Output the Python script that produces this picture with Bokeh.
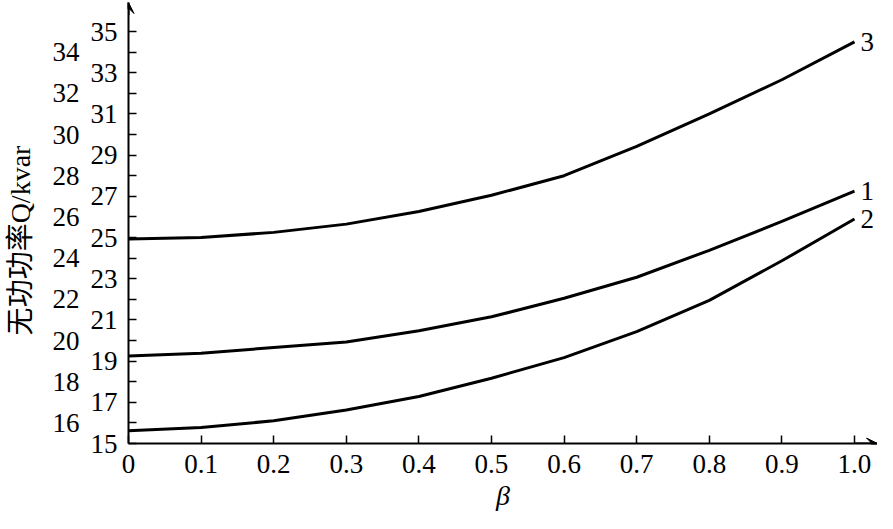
from bokeh.plotting import figure
from bokeh.models import (FixedTicker, LinearAxis, Range1d, Arrow, VeeHead)
from bokeh.core.properties import value
from bokeh.embed import file_html
from bokeh.resources import INLINE

# ---- data ----
beta = [0.0, 0.1, 0.2, 0.3, 0.4, 0.5, 0.6, 0.7, 0.8, 0.9, 1.0]
q_curve1 = [19.25, 19.38, 19.66, 19.93, 20.47, 21.15, 22.05, 23.07, 24.38, 25.78, 27.25]
q_curve2 = [15.62, 15.78, 16.10, 16.63, 17.28, 18.17, 19.17, 20.43, 21.95, 23.87, 25.90]
q_curve3 = [24.93, 25.00, 25.25, 25.65, 26.26, 27.05, 28.00, 29.42, 31.00, 32.66, 34.50]
curve_names = ["1", "2", "3"]

x_ticks = [0, 0.1, 0.2, 0.3, 0.4, 0.5, 0.6, 0.7, 0.8, 0.9, 1]
x_tick_labels = ["0", "0.1", "0.2", "0.3", "0.4", "0.5", "0.6", "0.7", "0.8", "0.9", "1.0"]
y_ticks = list(range(15, 36))
y_even = [t for t in y_ticks if t % 2 == 0]

x_title = "β"
y_title = "无功功率Q/kvar"

SERIF = "Liberation Serif"
TICK_FS = "27px"

p = figure(width=877, height=513, output_backend="svg", toolbar_location=None,
           x_range=Range1d(0, 1.0317), y_range=Range1d(15, 36.41),
           min_border_left=128, min_border_right=0, min_border_top=2,
           min_border_bottom=70)
p.outline_line_color = None
p.xgrid.visible = False
p.ygrid.visible = False
p.background_fill_color = "white"
p.border_fill_color = "white"

# x axis
xa = p.xaxis[0]
xa.ticker = FixedTicker(ticks=x_ticks)
xa.major_label_overrides = {t: s for t, s in zip(x_ticks, x_tick_labels)}
xa.major_tick_in = 8
xa.major_tick_out = 0
xa.minor_tick_line_color = None
xa.axis_line_width = 2
xa.major_tick_line_width = 1.5
xa.major_label_text_font = SERIF
xa.major_label_text_font_size = TICK_FS
xa.major_label_text_color = "black"
xa.major_label_standoff = 11
xa.axis_label = x_title
xa.axis_label_text_font = SERIF
xa.axis_label_text_font_style = "italic"
xa.axis_label_text_font_size = "28px"
xa.axis_label_text_color = "black"
xa.axis_label_standoff = 4

# y axis (inner: all ticks, odd labels)
ya = p.yaxis[0]
ya.ticker = FixedTicker(ticks=y_ticks)
ya.major_label_overrides = {t: ("" if t % 2 == 0 else str(t)) for t in y_ticks}
ya.major_tick_in = 8
ya.major_tick_out = 0
ya.minor_tick_line_color = None
ya.axis_line_width = 2
ya.major_tick_line_width = 1.5
ya.major_label_text_font = SERIF
ya.major_label_text_font_size = TICK_FS
ya.major_label_text_color = "black"
ya.major_label_standoff = 11

# y axis (outer: even labels, carries the title)
ya2 = LinearAxis(ticker=FixedTicker(ticks=y_even))
ya2.axis_line_color = None
ya2.major_tick_line_color = None
ya2.minor_tick_line_color = None
ya2.major_label_text_font = SERIF
ya2.major_label_text_font_size = TICK_FS
ya2.major_label_text_color = "black"
ya2.major_label_standoff = 2
ya2.axis_label = y_title + "\u00a0" * 5
ya2.axis_label_text_font = "Liberation Serif, Noto Sans CJK SC"
ya2.axis_label_text_font_style = "normal"
ya2.axis_label_text_font_size = "28px"
ya2.axis_label_text_color = "black"
ya2.axis_label_standoff = 14
p.add_layout(ya2, "left")

# curves
for q in (q_curve1, q_curve2, q_curve3):
    p.line(beta, q, line_color="black", line_width=3)

# curve labels at the right end of each curve
p.text(x=[beta[-1]] * 3, y=[q_curve1[-1], q_curve2[-1], q_curve3[-1]], text=curve_names,
       x_offset=6, text_align="left", text_baseline="middle",
       text_font=value(SERIF), text_font_size=TICK_FS, text_color="black")

# axis arrowheads
p.add_layout(Arrow(end=VeeHead(size=11, fill_color="black", line_color="black"),
                   x_start=1.0, y_start=15, x_end=1.0317, y_end=15,
                   line_color="black", line_width=2))
p.add_layout(Arrow(end=VeeHead(size=11, fill_color="black", line_color="black"),
                   x_start=0, y_start=35.8, x_end=0, y_end=36.41,
                   line_color="black", line_width=2))

open("out.html", "w").write(file_html(p, INLINE))
